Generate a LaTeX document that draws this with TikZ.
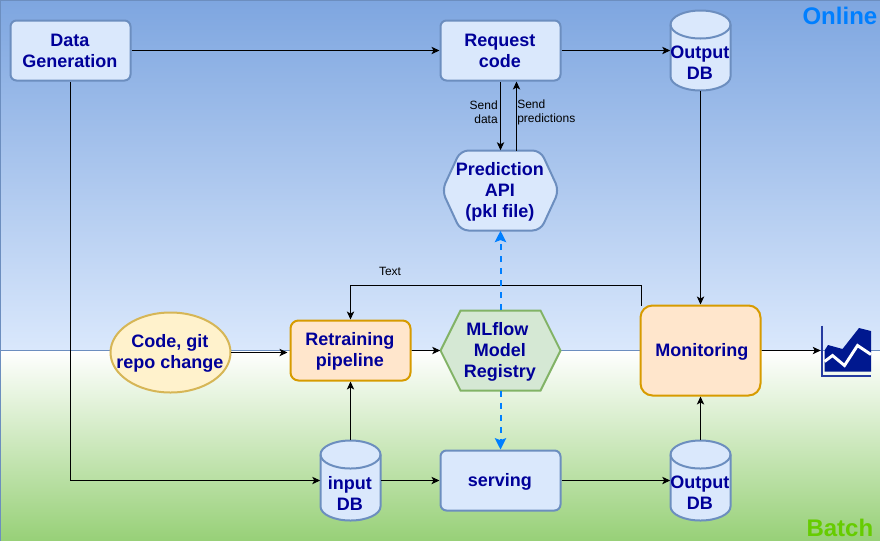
\documentclass[tikz,border=0pt]{standalone}
\usepackage{fontspec}
\setmainfont{Liberation Sans}
\usetikzlibrary{arrows.meta}
\definecolor{navytxt}{HTML}{000099}
\definecolor{blueln}{HTML}{6C8EBF}
\definecolor{bluefl}{HTML}{DAE8FC}
\definecolor{bluetop}{HTML}{7EA6E0}
\definecolor{grnbot}{HTML}{97D077}
\definecolor{batchgrn}{HTML}{66CC00}
\definecolor{orgln}{HTML}{D79B00}
\definecolor{orgfl}{HTML}{FFE6CC}
\definecolor{yelln}{HTML}{D6B656}
\definecolor{yelfl}{HTML}{FFF2CC}
\definecolor{grnln}{HTML}{82B366}
\definecolor{grnfl}{HTML}{D5E8D4}
\definecolor{dashblue}{HTML}{007FFF}
\definecolor{iconblue}{HTML}{00188F}
\tikzset{
  lbl/.style={font=\fontsize{13.5}{15.75}\selectfont\bfseries,text=navytxt,align=center,inner sep=0pt},
  tx/.style={label={[lbl,xshift=-.4pt,yshift=-.75pt]center:{#1}}},
  txb/.style={label={[lbl,xshift=-.4pt,yshift=-.3pt]center:{#1}}},
  bluebox/.style={draw=blueln,fill=bluefl,line width=1.5pt,rounded corners=4.5pt,inner sep=0pt,minimum width=90pt,minimum height=45pt},
  orgbox/.style={draw=orgln,fill=orgfl,line width=1.5pt,rounded corners=6pt,inner sep=0pt,minimum width=90pt,minimum height=45pt},
  dbhole/.style={inner sep=0pt,minimum width=45pt,minimum height=60pt},
  hexhole/.style={inner sep=0pt,minimum width=88pt,minimum height=60pt},
  dbshape/.style={draw=blueln,fill=bluefl,line width=1.5pt},
  conn/.style={draw=black,line width=.75pt,-{Stealth[length=6pt,width=5.5pt,inset=1.5pt]}},
  dashconn/.style={draw=dashblue,line width=1.5pt,dash pattern=on 4.5pt off 4.5pt,-{Stealth[length=8.5pt,width=8.5pt,inset=1.5pt]}},
  small/.style={font=\fontsize{9}{10.5}\selectfont,inner sep=0pt},
  cornerlbl/.style={font=\fontsize{18}{21}\selectfont\bfseries,inner sep=0pt}
}
\newcommand{\dbdraw}[2]{%
  \path[dbshape] (#1-30,#2-26) arc[x radius=22.5pt,y radius=10.5pt,start angle=180,end angle=0]
    -- (#1+30,#2+26) arc[x radius=22.5pt,y radius=10.5pt,start angle=0,end angle=-180] -- cycle;
  \draw[blueln,line width=1.5pt] (#1-30,#2-26) arc[x radius=22.5pt,y radius=10.5pt,start angle=180,end angle=360];
}
\begin{document}
\begin{tikzpicture}[x=.75pt,y=-.75pt]
\useasboundingbox (-0.5,-0.5) rectangle (879.5,539.5);
% backgrounds
\shade[top color=white,bottom color=grnbot] (0,350) rectangle (881,541);
\shade[top color=bluetop,bottom color=bluefl] (0,0) rectangle (881,350);
\draw[blueln,line width=.75pt] (0,541) -- (0,0) -- (881,0);
\draw[blueln,line width=.75pt] (0,350) -- (881,350);
\node[cornerlbl,text=dashblue,anchor=east] (online) at (877,15) {Online};
\node[cornerlbl,text=batchgrn,anchor=east] (batch) at (873,527) {Batch};

% cylinders
\dbdraw{700}{50}
\dbdraw{350}{480}
\dbdraw{700}{480}
\node[dbhole] (outtop) at (700,50) {};
\node[dbhole] (indb) at (350,480) {};
\node[dbhole] (outbot) at (700,480) {};
\node[lbl,xshift=-.4pt] (outtoptxt) at (700,62.5) {Output\\DB};
\node[lbl,xshift=-.4pt] (indbtxt) at (350,492.5) {input\\DB};
\node[lbl,xshift=-.4pt] (outbottxt) at (700,492.5) {Output\\DB};

% boxes
\node[bluebox,txb={Data\\Generation}] (datagen) at (70,50) {};
\node[bluebox,txb={Request\\code}] (request) at (500,50) {};
\node[bluebox,tx={serving}] (serving) at (500,480) {};
\node[orgbox,tx={Retraining\\pipeline}] (retrain) at (350,350) {};
\node[orgbox,rounded corners=9pt,minimum height=67.5pt,tx={\hspace*{3pt}Monitoring}] (monitor) at (700,350) {};
\path[draw=yelln,fill=yelfl,line width=1.5pt] (170,352) ellipse[x radius=45pt,y radius=30pt];
\node[inner sep=0pt,minimum width=90pt,minimum height=60pt,tx={Code, git\\repo change}] (code) at (170,352) {};

% hexagons
\path[draw=blueln,fill=bluefl,line width=1.5pt,rounded corners=6pt] (460,150) -- (540,150) -- (558.5,190) -- (540,230) -- (460,230) -- (441.5,190) -- cycle;
\node[hexhole,tx={Prediction\\API\\(pkl file)}] (pred) at (500,190) {};
\path[draw=grnln,fill=grnfl,line width=1.5pt,line join=miter] (460,310) -- (540,310) -- (560,350) -- (540,390) -- (460,390) -- (440,350) -- cycle;
\node[inner sep=0pt,minimum width=90pt,minimum height=60pt,tx={MLflow\hspace*{4pt}\\Model\\Registry}] (mlflow) at (500,350) {};

% chart icon
\node[inner sep=0pt,minimum width=37.5pt,minimum height=37.5pt] (chart) at (845.5,350) {};
\fill[iconblue] (824,350) -- (827.5,344.5) -- (842,348.5) -- (858.5,327.5) -- (870.5,330.5) -- (870.5,371) -- (824,371) -- cycle;
\draw[white,line width=2.2pt] (824,361) -- (832,355) -- (844,365) -- (857,345) -- (870.5,354);
\draw[iconblue!85!white,line width=1.5pt] (821,325) -- (821,375) -- (870.5,375);

% connectors
\draw[conn] (datagen.east) -- (request.west);
\draw[conn] (request.east) -- (outtop.west);
\draw[conn] (datagen.south) |- (indb.west);
\draw[conn] (request.south) -- (pred.north);
\coordinate (sendup) at (516,150);
\draw[conn] (sendup) -- (sendup |- request.south);
\draw[conn] (outtop.south) -- (monitor.north);
\coordinate (monout) at (640.5,305);
\coordinate (monrise) at (640.5,285);
\draw[conn] (monout) -- (monrise) -| (retrain.north);
\coordinate (codein) at (287,352);
\draw[conn] (code.east) -- (codein);
\draw[conn] (retrain.east) -- (mlflow.west);
\draw[dashconn] (mlflow.north) -- (pred.south);
\draw[dashconn] (mlflow.south) -- (serving.north);
\draw[conn] (indb.north) -- (retrain.south);
\draw[conn] (indb.east) -- (serving.west);
\draw[conn] (serving.east) -- (outbot.west);
\draw[conn] (outbot.north) -- (monitor.south);
\draw[conn] (monitor.east) -- (chart.west);

% labels
\node[small,align=right,anchor=east] (senddata) at (497.5,111.8) {Send\\data};
\node[small,align=left,anchor=west] (sendpred) at (516.5,111.8) {Send\\predictions};
\node[small] (textlbl) at (389.5,271) {Text};
\end{tikzpicture}
\end{document}
